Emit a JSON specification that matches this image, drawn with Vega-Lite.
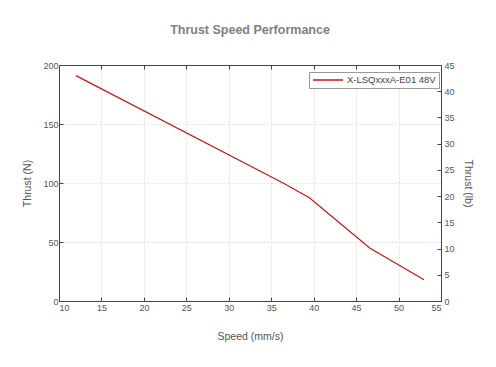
{
  "$schema": "https://vega.github.io/schema/vega-lite/v6.json",
  "autosize": "none",
  "width": 382,
  "height": 236,
  "padding": {"left": 59, "top": 65, "right": 55, "bottom": 66},
  "background": "white",
  "title": {
    "text": "Thrust Speed Performance",
    "font": "Liberation Sans",
    "fontSize": 12.5,
    "fontWeight": "bold",
    "color": "#808080",
    "offset": 25,
    "anchor": "middle"
  },
  "config": {
    "font": "Liberation Sans",
    "view": {"stroke": null},
    "axis": {
      "labelFont": "Liberation Sans",
      "labelFontSize": 9,
      "labelColor": "#555",
      "titleFont": "Liberation Sans",
      "titleFontSize": 10.5,
      "titleFontWeight": "normal",
      "titleColor": "#555",
      "domainColor": "#444",
      "tickColor": "#444",
      "tickSize": -4,
      "gridColor": "#e0e0e0",
      "gridDash": [2, 2]
    }
  },
  "data": {
    "values": [
      {"speed": 12.0, "thrust_n": 191.0, "thrust_lb": 42.94, "series": "X-LSQxxxA-E01 48V"},
      {"speed": 36.4, "thrust_n": 100.0, "thrust_lb": 22.48, "series": "X-LSQxxxA-E01 48V"},
      {"speed": 39.5, "thrust_n": 87.5, "thrust_lb": 19.67, "series": "X-LSQxxxA-E01 48V"},
      {"speed": 46.6, "thrust_n": 45.0, "thrust_lb": 10.12, "series": "X-LSQxxxA-E01 48V"},
      {"speed": 53.0, "thrust_n": 18.0, "thrust_lb": 4.05, "series": "X-LSQxxxA-E01 48V"}
    ]
  },
  "layer": [
    {
      "mark": {"type": "line", "strokeWidth": 1.2},
      "encoding": {
        "x": {
          "field": "speed",
          "type": "quantitative",
          "scale": {"domain": [10, 55], "nice": false},
          "axis": {"title": "Speed (mm/s)", "values": [10, 15, 20, 25, 30, 35, 40, 45, 50, 55], "labelPadding": 6, "titlePadding": 19}
        },
        "y": {
          "field": "thrust_n",
          "type": "quantitative",
          "scale": {"domain": [0, 200], "nice": false},
          "axis": {"title": "Thrust (N)", "values": [0, 50, 100, 150, 200], "labelPadding": 5, "titlePadding": 10}
        },
        "color": {
          "field": "series",
          "type": "nominal",
          "scale": {"range": ["#cc1515"]},
          "legend": {
            "title": null,
            "orient": "none",
            "legendX": 250,
            "legendY": 7,
            "strokeColor": "#999",
            "fillColor": "white",
            "padding": 3,
            "symbolType": "M-1,0L1,0",
            "symbolSize": 900,
            "symbolStrokeWidth": 1.5,
            "clipHeight": 10,
            "labelFont": "Liberation Sans",
            "labelFontSize": 9.5,
            "labelColor": "#444",
            "labelOffset": 3
          }
        }
      }
    },
    {
      "mark": {"type": "line", "opacity": 0},
      "encoding": {
        "x": {
          "field": "speed",
          "type": "quantitative",
          "axis": {"orient": "top", "title": null, "labels": false, "grid": false, "values": [10, 15, 20, 25, 30, 35, 40, 45, 50, 55]}
        },
        "y": {
          "field": "thrust_lb",
          "type": "quantitative",
          "scale": {"domain": [0, 45], "nice": false},
          "axis": {"orient": "right", "title": "Thrust (lb)", "grid": false, "values": [0, 5, 10, 15, 20, 25, 30, 35, 40, 45], "labelPadding": 7, "titlePadding": 8}
        }
      }
    }
  ],
  "resolve": {"scale": {"y": "independent"}, "axis": {"x": "independent"}}
}
